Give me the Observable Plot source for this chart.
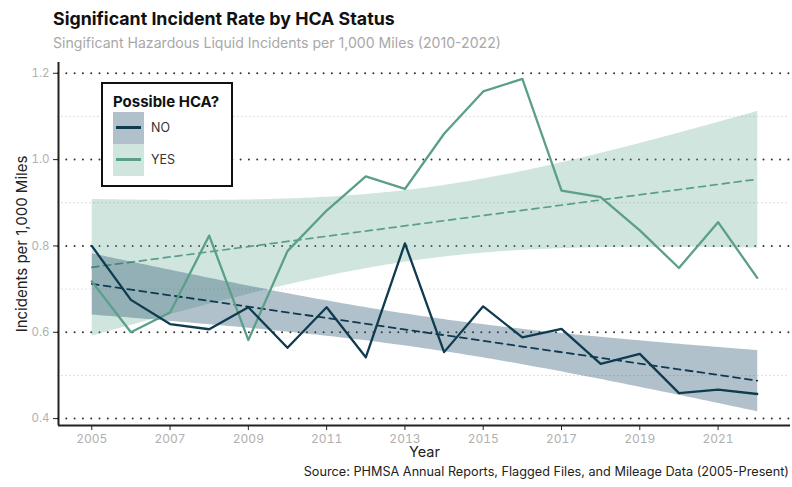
<!DOCTYPE html>
<html>
<head>
<meta charset="utf-8">
<script src="https://cdn.jsdelivr.net/npm/d3@7"></script>
<script src="https://cdn.jsdelivr.net/npm/@observablehq/plot@0.6"></script>
<style>
  html, body { margin: 0; padding: 0; background: #fff; }
  #wrap { position: relative; width: 792px; height: 487px; font-family: Inter, "Noto Sans", sans-serif; overflow: hidden; }
  #title { position: absolute; left: 53px; top: 8px; font-size: 17.8px; font-weight: 700; color: #111; white-space: nowrap; }
  #subtitle { position: absolute; left: 53px; top: 34px; font-size: 14.1px; color: #a8a8a8; white-space: nowrap; }
  #chart { position: absolute; left: 0; top: 55px; }
  #legend { position: absolute; left: 101px; top: 82px; width: 128px; height: 101px; border: 2px solid #111; background: #fff; }
  #legend .lt { position: absolute; left: 10px; top: 8px; font-size: 15px; font-weight: 700; color: #111; white-space: nowrap; }
  #legend .key { position: absolute; left: 10px; width: 31px; height: 32px; }
  #legend .key .ln { position: absolute; left: 3px; right: 3px; top: 14px; height: 3px; }
  #legend .lab { position: absolute; left: 48px; font-size: 12.5px; color: #333; }
  #caption { position: absolute; right: 3px; top: 464px; font-size: 12.7px; color: #222; white-space: nowrap; }
</style>
</head>
<body>
<div id="wrap">
  <div id="title">Significant Incident Rate by HCA Status</div>
  <div id="subtitle">Singificant Hazardous Liquid Incidents per 1,000 Miles (2010-2022)</div>
  <div id="chart"></div>
  <div id="legend">
    <div class="lt">Possible HCA?</div>
    <div class="key" style="top:28px;background:#b1c1cb"><div class="ln" style="background:#0e3b50"></div></div>
    <div class="lab" style="top:36px">NO</div>
    <div class="key" style="top:60px;background:#cfe5dd"><div class="ln" style="background:#5c9f88"></div></div>
    <div class="lab" style="top:68px">YES</div>
  </div>
  <div id="caption">Source: PHMSA Annual Reports, Flagged Files, and Mileage Data (2005-Present)</div>
</div>
<script>
const years = [2005, 2006, 2007, 2008, 2009, 2010, 2011, 2012, 2013, 2014, 2015, 2016, 2017, 2018, 2019, 2020, 2021, 2022];
const noRate = [0.800, 0.675, 0.619, 0.607, 0.658, 0.564, 0.658, 0.542, 0.806, 0.554, 0.660, 0.588, 0.608, 0.527, 0.550, 0.459, 0.467, 0.457];
const yesRate = [0.718, 0.600, 0.646, 0.824, 0.582, 0.788, 0.882, 0.961, 0.932, 1.060, 1.158, 1.187, 0.928, 0.913, 0.836, 0.749, 0.855, 0.726];
const xTicks = [2005, 2007, 2009, 2011, 2013, 2015, 2017, 2019, 2021];
const yMajor = [0.4, 0.6, 0.8, 1.0, 1.2];
const yMinor = [0.5, 0.7, 0.9, 1.1];

const noData = years.map((year, i) => ({year, rate: noRate[i]}));
const yesData = years.map((year, i) => ({year, rate: yesRate[i]}));

const NO_LINE = "#0e3b50", YES_LINE = "#5c9f88";
const xDom = [2004.15, 2022.85], yDom = [0.384, 1.225];

const chart = Plot.plot({
  width: 792,
  height: 410,
  marginLeft: 58,
  marginRight: 2,
  marginTop: 7,
  marginBottom: 40,
  style: {fontFamily: "Inter, 'Noto Sans', sans-serif", background: "#fff"},
  x: {domain: xDom, label: null},
  y: {domain: yDom, label: null},
  marks: [
    Plot.ruleY(yMinor, {stroke: "#cfcfcf", strokeWidth: 1.4, strokeDasharray: "0,4", strokeLinecap: "round"}),
    Plot.ruleY(yMajor, {stroke: "#333", strokeWidth: 2, strokeDasharray: "0,8.3", strokeLinecap: "round"}),
    Plot.linearRegressionY(yesData, {x: "year", y: "rate", stroke: YES_LINE, fill: "#5fa98e", fillOpacity: 0.3, strokeWidth: 1.7, strokeDasharray: "7,5", ci: 0.95}),
    Plot.linearRegressionY(noData, {x: "year", y: "rate", stroke: NO_LINE, fill: "#1f4e6b", fillOpacity: 0.35, strokeWidth: 1.8, strokeDasharray: "7,5", ci: 0.95}),
    Plot.line(yesData, {x: "year", y: "rate", stroke: YES_LINE, strokeWidth: 2.3}),
    Plot.line(noData, {x: "year", y: "rate", stroke: NO_LINE, strokeWidth: 2.3}),
    Plot.ruleX([xDom[0]], {stroke: "#222", strokeWidth: 2}),
    Plot.ruleY([yDom[0]], {stroke: "#222", strokeWidth: 2}),
    Plot.axisY(yMajor, {tickSize: 5, tickPadding: 4, stroke: "#222", fill: "#b0b0b0", fontSize: 11.5, tickFormat: d3.format(".1f"), label: null}),
    Plot.axisX(xTicks, {tickSize: 5, tickPadding: 4, stroke: "#222", fill: "#b0b0b0", fontSize: 12, tickFormat: d => String(d), label: null}),
    Plot.text(["Year"], {frameAnchor: "bottom", dy: 31, fontSize: 14.5, fill: "#222"}),
    Plot.text(["Incidents per 1,000 Miles"], {frameAnchor: "left", textAnchor: "middle", rotate: -90, dx: -36, fontSize: 15, fill: "#222"})
  ]
});
document.getElementById("chart").appendChild(chart);
</script>
</body>
</html>
